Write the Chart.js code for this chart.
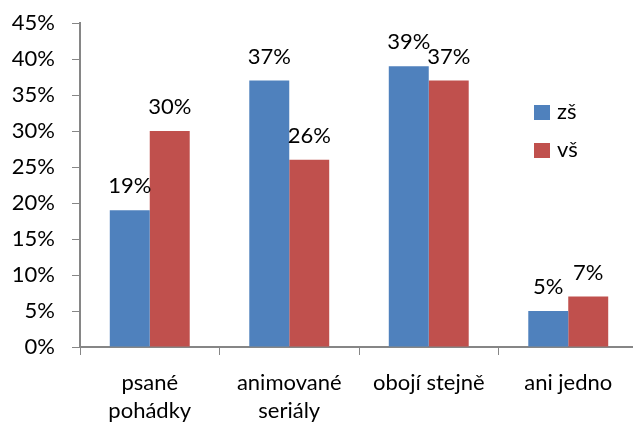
<!DOCTYPE html>
<html>
<head>
<meta charset="utf-8">
<script src="https://cdn.jsdelivr.net/npm/chart.js@4"></script>
<style>
  html, body { margin: 0; padding: 0; background: #fff; overflow: hidden; }
  #wrap { width: 633px; height: 427px; overflow: hidden; }
</style>
</head>
<body>
<div id="wrap"><canvas id="grafica" width="642" height="427"></canvas></div>
<script>
const categorias = [["psané", "pohádky"], ["animované", "seriály"], "obojí stejně", "ani jedno"];
const zs = [19, 37, 39, 5];
const vs = [30, 26, 37, 7];
const ticksY = [0, 5, 10, 15, 20, 25, 30, 35, 40, 45];

const fuente = "Lato";
const tam = 22;
const gris = "#868686";

// etiquetas encima de cada barra
const etiquetas = {
  id: "etiquetas",
  afterDatasetsDraw(chart) {
    const ctx = chart.ctx;
    ctx.save();
    ctx.font = tam + "px " + fuente;
    ctx.fillStyle = "#000";
    ctx.textAlign = "center";
    ctx.textBaseline = "alphabetic";
    chart.data.datasets.forEach((ds, i) => {
      chart.getDatasetMeta(i).data.forEach((bar, j) => {
        ctx.fillText(ds.data[j] + "%", bar.x, bar.y - 17);
      });
    });
    ctx.restore();
  }
};

// leyenda dentro del area del grafico
const leyenda = {
  id: "leyenda",
  afterDraw(chart) {
    const ctx = chart.ctx;
    ctx.save();
    ctx.font = tam + "px " + fuente;
    ctx.textBaseline = "middle";
    chart.data.datasets.forEach((ds, i) => {
      const y = 105 + i * 38;
      ctx.fillStyle = ds.backgroundColor;
      ctx.fillRect(534, y, 16, 15);
      ctx.fillStyle = "#000";
      ctx.fillText(ds.label, 557, y + 7);
    });
    ctx.restore();
  }
};

new Chart(document.getElementById("grafica"), {
  type: "bar",
  data: {
    labels: categorias,
    datasets: [
      { label: "zš", data: zs, backgroundColor: "#4F81BD", categoryPercentage: 0.573, barPercentage: 1 },
      { label: "vš", data: vs, backgroundColor: "#C0504D", categoryPercentage: 0.573, barPercentage: 1 }
    ]
  },
  options: {
    responsive: false,
    animation: false,
    layout: { padding: { top: 23, right: 4, left: 0, bottom: 0 } },
    plugins: {
      legend: { display: false },
      tooltip: { enabled: false }
    },
    scales: {
      x: {
        afterFit: s => { s.height = 80; s.paddingLeft = 0; s.paddingRight = 0; },
        grid: { drawOnChartArea: false, color: gris, tickLength: 8 },
        border: { color: gris, width: 2 },
        ticks: { color: "#000", font: { family: fuente, size: tam, lineHeight: 1.27 }, padding: 14, maxRotation: 0 }
      },
      y: {
        min: 0,
        max: 45,
        afterFit: s => { s.width = 80; s.paddingTop = 0; s.paddingBottom = 0; },
        afterBuildTicks: s => { s.ticks = ticksY.map(v => ({ value: v })); },
        grid: { drawOnChartArea: false, color: gris, tickLength: 8 },
        border: { color: gris, width: 2 },
        ticks: { color: "#000", font: { family: fuente, size: tam }, padding: 17, callback: v => v + "%" }
      }
    }
  },
  plugins: [etiquetas, leyenda]
});
</script>
</body>
</html>
